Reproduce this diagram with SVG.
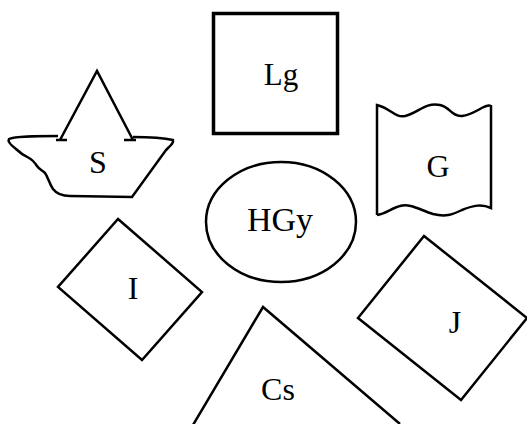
<svg xmlns="http://www.w3.org/2000/svg" width="527" height="424" viewBox="0 0 527 424">
<style>
.s{fill:none;stroke:#000;stroke-width:2.5;stroke-linejoin:miter}
.t{font-family:"Liberation Serif",serif;font-size:32px;fill:#000;text-anchor:middle}
</style>
<rect width="527" height="424" fill="#fff"/>
<g id="Lg"><rect x="213.5" y="13.5" width="124" height="120" fill="none" stroke="#000" stroke-width="3.5"/><text class="t" x="281" y="85" style="font-size:31px">Lg</text></g>
<g id="S">
<path class="s" d="M60,140 L97,71 L133,140 M56,140 H67 M124,140 H136"/>
<path class="s" d="M58,136 C35,136 15,136 9,139 C7,142 12,146 16,149 C20,153 25,156 29,158 C33,160 35,163 37,166 C39,169 42,170 45,173 C48,177 49,183 53,189 C56,193 60,196 70,196 L132,197 L166,150 C170,146 174,143 173,140 C160,137 145,137 133,137"/>
<text class="t" x="98" y="173">S</text></g>
<g id="G"><path class="s" d="M377,215 V105 C390,108 395,118 405,116 C418,113 425,102 440,105 C450,107 452,117 462,116 C475,115 485,103 491,106 V208 C482,204 474,205 462,210 C452,215 445,217 433,214 C420,210 410,203 400,206 C392,208 385,214 377,215"/><text class="t" x="438" y="177">G</text></g>
<g id="HGy"><ellipse class="s" cx="281" cy="222" rx="75" ry="60"/><text class="t" x="280" y="231" style="font-size:34px">HGy</text></g>
<g id="I"><path class="s" d="M118,219 L202,292 L142,360 L58,287 Z"/><text class="t" x="133" y="299">I</text></g>
<g id="J"><path class="s" d="M424,236 L527,318 L461,400 L358,318 Z"/><text class="t" x="455" y="333">J</text></g>
<g id="Cs"><path class="s" d="M193,425 L263,307 L400,424"/><text class="t" x="278" y="400">Cs</text></g>
</svg>
